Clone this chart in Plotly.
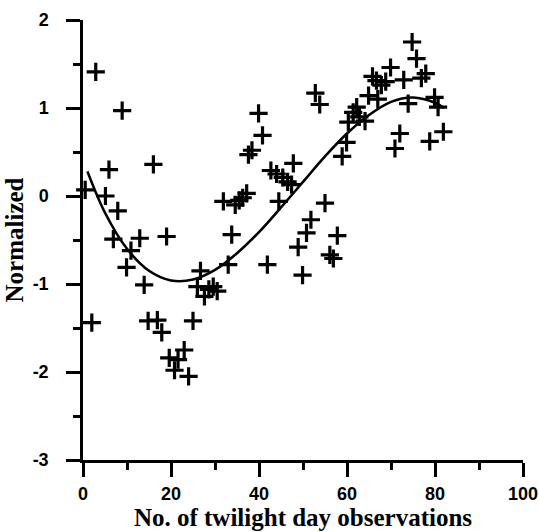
import plotly.graph_objects as go

# Scatter data
obs_x = [0.5, 2.0, 2.9, 5.1, 5.9, 6.9, 7.9, 8.9, 9.9, 10.9, 12.9, 13.9, 14.8, 16.0, 16.9,
         17.9, 19.0, 19.6, 20.8, 21.6, 23.0, 24.0, 25.0, 26.0, 26.7, 27.6, 28.6, 29.6,
         30.5, 31.9, 33.0, 33.8, 34.6, 35.5, 36.3, 37.2, 37.6, 38.4, 39.9, 40.8, 41.9,
         42.7, 44.0, 44.5, 45.4, 46.5, 47.4, 47.8, 48.9, 49.9, 50.8, 51.8, 52.8, 53.8,
         55.0, 56.1, 56.9, 57.8, 58.9, 59.9, 60.3, 61.4, 62.2, 62.8, 64.1, 64.9, 65.8,
         66.7, 67.0, 67.8, 68.8, 69.9, 70.9, 72.0, 72.9, 73.9, 74.8, 75.8, 76.9, 77.9,
         78.8, 79.9, 80.7, 81.9]
obs_y = [0.07, -1.44, 1.41, 0.0, 0.30, -0.49, -0.17, 0.97, -0.81, -0.62, -0.48, -1.01, -1.42,
         0.36, -1.41, -1.55, -0.46, -1.84, -1.98, -1.86, -1.75, -2.05, -1.42, -1.03, -0.85,
         -1.14, -1.06, -1.03, -1.08, -0.06, -0.78, -0.44, -0.10, -0.05, -0.02, 0.03, 0.47,
         0.52, 0.94, 0.69, -0.78, 0.29, 0.25, -0.06, 0.21, 0.16, 0.13, 0.37, -0.58, -0.90,
         -0.42, -0.27, 1.17, 1.04, -0.08, -0.67, -0.71, -0.45, 0.45, 0.61, 0.84, 0.95, 1.01,
         0.90, 0.85, 1.14, 1.36, 1.31, 1.10, 1.26, 1.30, 1.46, 0.54, 0.71, 1.32, 1.05, 1.75,
         1.56, 1.34, 1.39, 0.62, 1.12, 1.01, 0.73]

# Fitted curve
fit_x = [1, 5, 10, 15, 20, 25, 30, 35, 40, 45, 50, 55, 60, 65, 70, 75, 80, 82]
fit_y = [0.28, -0.19, -0.60, -0.85, -0.96, -0.95, -0.84, -0.65, -0.41, -0.13, 0.16,
         0.45, 0.71, 0.92, 1.07, 1.12, 1.06, 1.00]

x_ticks = [0, 20, 40, 60, 80, 100]
x_tick_labels = ["0", "20", "40", "60", "80", "100"]
y_ticks = [-3, -2, -1, 0, 1, 2]
y_tick_labels = ["-3", "-2", "-1", "0", "1", "2"]

fig = go.Figure()
fig.add_trace(go.Scatter(
    x=obs_x, y=obs_y, mode="markers",
    marker=dict(symbol="cross-thin", size=13, line=dict(width=3.2, color="black")),
    showlegend=False, cliponaxis=False))
fig.add_trace(go.Scatter(
    x=fit_x, y=fit_y, mode="lines", line=dict(color="black", width=2.6, shape="spline"),
    showlegend=False))

axis_common = dict(
    showline=True, linecolor="black", linewidth=2.5, mirror=False,
    showgrid=False, zeroline=False,
    ticks="outside", ticklen=14, tickwidth=2.5, tickcolor="black",
    tickfont=dict(family="Liberation Sans, Arial", size=18, color="black"),
)

title_font = dict(family="Liberation Serif, Times New Roman", size=25, color="black")

fig.update_layout(
    width=539, height=532,
    margin=dict(l=83, r=16, t=20, b=72, autoexpand=False),
    paper_bgcolor="white", plot_bgcolor="white",
    xaxis=dict(range=[0, 100], tickvals=x_ticks,
               ticktext=["<b>%s</b>" % t for t in x_tick_labels], ticklabelstandoff=2,
               minor=dict(ticks="outside", ticklen=7, tickwidth=2.5, tickcolor="black", dtick=10),
               title=dict(text="<b>No. of twilight day observations</b>", standoff=6,
                          font=title_font),
               **axis_common),
    yaxis=dict(range=[-3, 2], tickvals=y_ticks,
               ticktext=["<b>%s</b>" % t for t in y_tick_labels], ticklabelstandoff=14,
               minor=dict(ticks="outside", ticklen=7, tickwidth=2.5, tickcolor="black", dtick=0.5),
               title=dict(text="<b>Normalized</b>", standoff=2, font=title_font),
               **axis_common),
)

fig.write_html("out.html")
